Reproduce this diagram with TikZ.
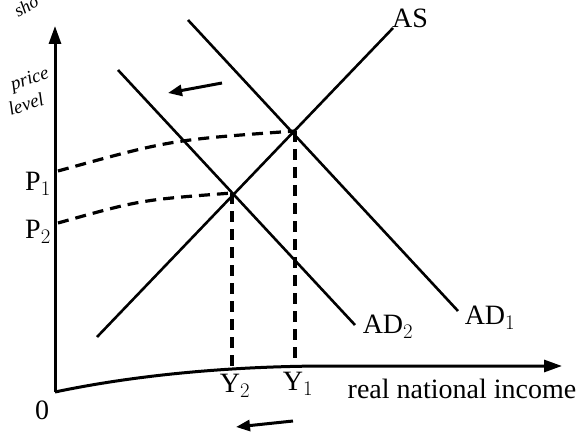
\documentclass[tikz,border=0pt]{standalone}
\usepackage{fontspec}
\setmainfont{Liberation Serif}
\usepackage{tikz}
\usetikzlibrary{arrows.meta, positioning, calc}
\tikzstyle{curve} = [
    line width=2.6pt,
    color=black
]
\tikzstyle{guide} = [
    line width=3.2pt,
    dash pattern=on 11pt off 7pt,
    color=black
]
\tikzstyle{axis} = [
    line width=3pt,
    -{Triangle[length=18pt, width=12pt]}
]
\tikzstyle{shiftarrow} = [
    line width=3pt,
    -{Triangle[length=14pt, width=11pt]}
]
\tikzstyle{lbl} = [
    font=\fontsize{28}{32}\selectfont,
    inner sep=0pt
]
\tikzstyle{slant} = [
    font=\fontsize{19}{21}\selectfont\itshape,
    rotate=18,
    inner sep=0pt
]
\begin{document}
\begin{tikzpicture}[x=1pt, y=-1pt]
        \useasboundingbox (0,0) rectangle (585,438);
        \clip (0,0) rectangle (585,438);
        % Axes
        \coordinate (origin) at (55,392);
        \coordinate (ytop) at (55,26);
        \coordinate (xbend) at (330,366);
        \coordinate (xend) at (562,366);
        \draw[axis] (origin) -- (ytop);
        \draw[axis] (origin) .. controls (150,372) and (250,366) .. (xbend) -- (xend);
        
        % Equilibria
        \coordinate (E1) at (295,131);
        \coordinate (E2) at (232,193);
        \coordinate (Y1) at (295,367);
        \coordinate (Y2) at (232,370);
        \coordinate (P1) at (58,171);
        \coordinate (P2) at (58,223);
        
        % Curves
        \coordinate (as1) at (97,337);
        \coordinate (as2) at (393,28);
        \coordinate (adA1) at (188,20);
        \coordinate (adA2) at (458,311);
        \coordinate (adB1) at (118,70);
        \coordinate (adB2) at (355,325);
        \draw[curve] (as1) -- (as2);
        \draw[curve] (adA1) -- (adA2);
        \draw[curve] (adB1) -- (adB2);
        
        % Guides
        \draw[guide] (P1) .. controls (170,140) .. (E1);
        \draw[guide] (P2) .. controls (140,200) .. (E2);
        \draw[guide] (E1) -- (Y1);
        \draw[guide] (E2) -- (Y2);
        
        % Shift arrows
        \coordinate (topA) at (222,83);
        \coordinate (topB) at (168,93);
        \coordinate (botA) at (293,421);
        \coordinate (botB) at (236,427);
        \draw[shiftarrow] (topA) -- (topB);
        \draw[shiftarrow] (botA) -- (botB);
        
        % Labels
        \node[lbl] (asl) at (410,18) {AS};
        \node[lbl] (ad1l) at (490,318) {AD$_1$};
        \node[lbl] (ad2l) at (388,327) {AD$_2$};
        \node[lbl] (p1l) at (38,184) {P$_1$};
        \node[lbl] (p2l) at (38,232) {P$_2$};
        \node[lbl] (y2l) at (235,386) {Y$_2$};
        \node[lbl] (y1l) at (298,384) {Y$_1$};
        \node[lbl] (xlbl) at (462,389) {real national income};
        \node[lbl] (zero) at (42,410) {0};
        \node[slant] (pricel) at (30,80) {price};
        \node[slant] (levell) at (26,104) {level};
        \node[font=\fontsize{18}{18}\selectfont\itshape, rotate=30, inner sep=0pt] (frag) at (26,6) {sho};
    \end{tikzpicture}
\end{document}
